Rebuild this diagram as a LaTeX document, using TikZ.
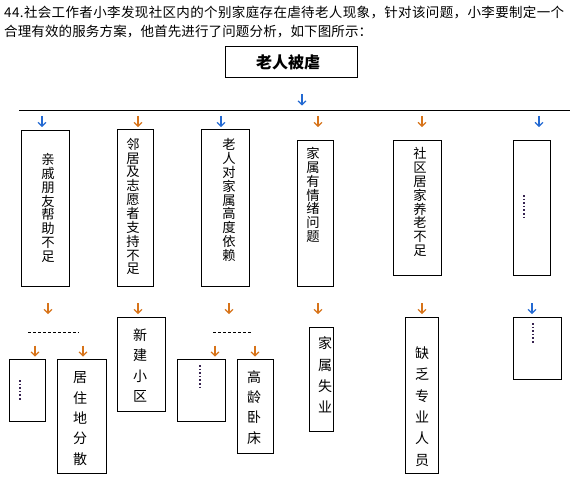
\documentclass[tikz,border=0pt]{standalone}
\usepackage{fontspec}
\setmainfont{Noto Sans CJK SC}
\usetikzlibrary{arrows.meta}
\definecolor{arrO}{RGB}{215,115,25}
\definecolor{arrB}{RGB}{35,105,210}
\definecolor{dotc}{RGB}{55,35,80}
\tikzset{
  fbox/.style={draw=black, line width=1pt, inner sep=0pt, rectangle},
  darrow/.style={line width=1.2pt, -{Straight Barb[length=3.8pt,width=8pt]}},
  vtop/.style={inner sep=0pt, align=center, font=\fontsize{13.3}{13.85}\selectfont},
  vbot/.style={inner sep=0pt, align=center, font=\fontsize{14}{20.3}\selectfont},
  vdots/.style={line width=2pt, dotc, dash pattern=on 1.6pt off 2pt},
  dashtxt/.style={line width=0.8pt, dash pattern=on 3pt off 2pt},
}
\newcommand\downarr[3]{\draw[darrow,#1] (#2,#3) -- ++(0,11);}
\def\spreadloop#1{\ifx\relax#1\unskip\else#1\hfil\expandafter\spreadloop\fi}
\newcommand\spreadline[2]{\hbox to #1{\spreadloop#2\relax}}
\begin{document}
\begin{tikzpicture}[x=1pt,y=-1pt]
\useasboundingbox[fill=white] (0,0) rectangle (577,481);
% header text
\node[anchor=north west, inner sep=0pt, font=\fontsize{13.5}{20}\selectfont] (head1) at (4,5.5)
  {\spreadline{560pt}{44.社会工作者小李发现社区内的个别家庭存在虐待老人现象，针对该问题，小李要制定一个}};
\node[anchor=north west, inner sep=0pt, font=\fontsize{13.5}{20}\selectfont] (head2) at (4,25)
  {\spreadline{368pt}{合理有效的服务方案，他首先进行了问题分析，如下图所示：}};
% main box
\node[fbox, minimum width=132pt, minimum height=31pt] (main) at (291,62.5) {};
\node[inner sep=0pt, font=\fontsize{16}{16}\selectfont\bfseries] (maint) at (288,62) {老人被虐};
\downarr{arrB}{302}{94.5}
% horizontal line
\coordinate (hl1) at (19,111);
\coordinate (hl2) at (570,111);
\draw[line width=1pt] (hl1) -- (hl2);
% row 1 arrows
\downarr{arrB}{42}{116}
\downarr{arrO}{138}{116}
\downarr{arrB}{221}{116}
\downarr{arrO}{318}{116}
\downarr{arrO}{422}{116}
\downarr{arrB}{539}{116}
% top boxes
\node[fbox, minimum width=48pt, minimum height=155pt] (t1) at (45,208.5) {};
\node[fbox, minimum width=36pt, minimum height=156pt] (t2) at (135,208) {};
\node[fbox, minimum width=48pt, minimum height=156pt] (t3) at (225,208) {};
\node[fbox, minimum width=36pt, minimum height=145pt] (t4) at (315,213.5) {};
\node[fbox, minimum width=48pt, minimum height=134pt] (t5) at (417,208) {};
\node[fbox, minimum width=37pt, minimum height=134pt] (t6) at (531.5,208) {};
\node[vtop] (t1t) at (48,208) {亲\\戚\\朋\\友\\帮\\助\\不\\足};
\node[vtop] (t2t) at (133,206.5) {邻\\居\\及\\志\\愿\\者\\支\\持\\不\\足};
\node[vtop] (t3t) at (229,200) {老\\人\\对\\家\\属\\高\\度\\依\\赖};
\node[vtop] (t4t) at (313,195) {家\\属\\有\\情\\绪\\问\\题};
\node[vtop] (t5t) at (420,202) {社\\区\\居\\家\\养\\老\\不\\足};
\draw[vdots] (524,195) -- (524,219);
% row 2 arrows
\downarr{arrO}{48}{303}
\downarr{arrO}{138}{303}
\downarr{arrO}{229}{303}
\downarr{arrO}{318}{303}
\downarr{arrO}{422}{303}
\downarr{arrB}{532}{303}
% dashed separators
\draw[dashtxt] (28,332) -- (79,332);
\draw[dashtxt] (213,332) -- (251,332);
% sub arrows
\downarr{arrO}{35}{345.5}
\downarr{arrO}{83}{345.5}
\downarr{arrO}{215}{345.5}
\downarr{arrO}{255}{345.5}
% bottom boxes
\node[fbox, minimum width=36pt, minimum height=62pt] (bA) at (27,390) {};
\node[fbox, minimum width=49pt, minimum height=114pt] (bB) at (81.5,416) {};
\node[fbox, minimum width=48pt, minimum height=94pt] (bC) at (141,364) {};
\node[fbox, minimum width=48pt, minimum height=62pt] (bD) at (201,390) {};
\node[fbox, minimum width=36pt, minimum height=94pt] (bE) at (255,406) {};
\node[fbox, minimum width=24pt, minimum height=104pt] (bF) at (321,379) {};
\node[fbox, minimum width=33pt, minimum height=156pt] (bG) at (421.5,395) {};
\node[fbox, minimum width=48pt, minimum height=62pt] (bH) at (537,348) {};
\draw[vdots] (20,380) -- (20,401);
\draw[vdots] (200,365) -- (200,389);
\draw[vdots] (533,323) -- (533,344);
\node[vbot] (bBt) at (80,418.5) {居\\住\\地\\分\\散};
\node[vbot] (bCt) at (140,365.5) {新\\建\\小\\区};
\node[vbot] (bEt) at (254,407.5) {高\\龄\\卧\\床};
\node[vbot, font=\fontsize{14}{21.3}\selectfont] (bFt) at (325,375) {家\\属\\失\\业};
\node[vbot, font=\fontsize{14}{21.4}\selectfont] (bGt) at (422,406.5) {缺\\乏\\专\\业\\人\\员};
\end{tikzpicture}
\end{document}
